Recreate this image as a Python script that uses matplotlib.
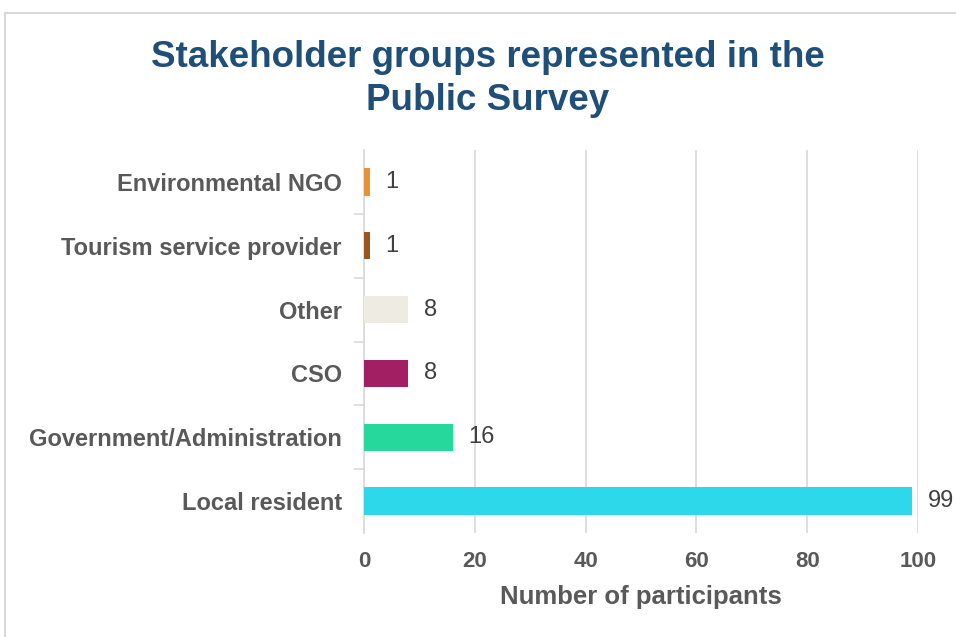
import matplotlib.pyplot as plt
from matplotlib.patches import Rectangle

plt.rcParams['font.family'] = ['Liberation Sans', 'DejaVu Sans']

groups = ['Local resident', 'Government/Administration', 'CSO', 'Other',
          'Tourism service provider', 'Environmental NGO']
counts = [99, 16, 8, 8, 1, 1]
colors = ['#2DD8EA', '#27D89D', '#A31F63', '#EEEBE3', '#9B5520', '#E8923A']
xticks = [0, 20, 40, 60, 80, 100]
title_lines = ['Stakeholder groups represented in the', 'Public Survey']

fig = plt.figure(figsize=(9.56, 6.37), dpi=100)
ax = fig.add_axes([364 / 956, 1 - 533 / 637, (918 - 364) / 956, (533 - 150) / 637])

bars = ax.barh(range(len(groups)), counts, height=0.43, color=colors, zorder=3)
for b, v in zip(bars, counts):
    ax.text(b.get_width() + 2.8, b.get_y() + b.get_height() / 2, str(v),
            va='center', ha='left', fontsize=17, color='#404040', clip_on=False)

ax.set_xlim(0, 100)
ax.set_ylim(-0.5, len(groups) - 0.5)
ax.set_xticks(xticks)
ax.set_xticklabels([str(t) for t in xticks], fontsize=16, fontweight='bold', color='#595959')
ax.set_yticks(range(len(groups)))
ax.set_yticklabels(groups, fontsize=17, fontweight='bold', color='#595959')
ax.set_yticks([i - 0.5 for i in range(1, len(groups))], minor=True)
ax.tick_params(axis='y', which='major', length=0, pad=16)
ax.tick_params(axis='y', which='minor', length=7, color='#D9D9D9', width=1.2)
ax.tick_params(axis='x', length=0, pad=13)
ax.xaxis.grid(True, color='#D9D9D9', linewidth=1.2, zorder=0)
for s in ['top', 'right', 'bottom']:
    ax.spines[s].set_visible(False)
ax.spines['left'].set_color('#D9D9D9')
ax.spines['left'].set_linewidth(1.2)

ax.set_xlabel('Number of participants', fontsize=18.5, fontweight='bold',
              color='#595959', labelpad=9)

cx = 0.5 * (148 + 828) / 956
for line, base in zip(title_lines, [67, 110]):
    fig.text(cx, 1 - base / 637, line, ha='center', va='baseline',
             fontsize=26.5, fontweight='bold', color='#1F4E79')

fig.patches.append(Rectangle((4.5 / 956, -0.1), 1.1, 1.1 - 12.5 / 637,
                             transform=fig.transFigure, fill=False,
                             edgecolor='#D9D9D9', linewidth=1.5))

fig.savefig('out.png', dpi=100)
